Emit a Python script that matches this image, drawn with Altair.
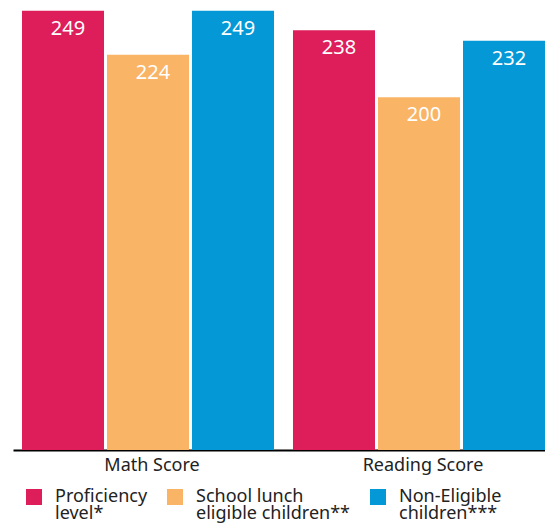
import altair as alt
import pandas as pd

groups = ["Math Score", "Reading Score"]
series = ["Proficiency|level*", "School lunch|eligible children**", "Non-Eligible|children***"]
math_values = [249, 224, 249]
reading_values = [238, 200, 232]
colors = ["#DE1D5B", "#F9B466", "#0498D6"]

rows = []
for s, v in zip(series, math_values):
    rows.append({"group": groups[0], "series": s, "value": v})
for s, v in zip(series, reading_values):
    rows.append({"group": groups[1], "series": s, "value": v})
df = pd.DataFrame(rows)

FONT = "Noto Sans"

base = alt.Chart(df).encode(
    x=alt.X(
        "group:N",
        sort=groups,
        scale=alt.Scale(paddingInner=0.0701, paddingOuter=0.0166, align=1.0),
        axis=alt.Axis(
            title=None, labelAngle=0, ticks=False, domainColor="black", domainWidth=2,
            labelFontSize=18, labelFont=FONT, labelColor="#222222", labelPadding=6,
            labelBaseline="top", labelOffset=4,
        ),
    ),
    xOffset=alt.XOffset("series:N", sort=series, scale=alt.Scale(paddingInner=0.0353, paddingOuter=0)),
    y=alt.Y("value:Q", scale=alt.Scale(domain=[0, 250], nice=False), axis=None),
)

bars = base.mark_bar().encode(
    color=alt.Color(
        "series:N",
        sort=series,
        scale=alt.Scale(domain=series, range=colors),
        legend=alt.Legend(
            title=None, orient="none", legendX=12, legendY=479, direction="horizontal",
            symbolType="square", symbolSize=256, symbolStrokeWidth=0,
            labelFontSize=18, labelFont=FONT, labelColor="#222222",
            labelExpr="split(datum.label, '|')", columnPadding=18, labelOffset=12,
            padding=0, labelLimit=300,
        ),
    )
)

text = base.mark_text(
    color="white", baseline="alphabetic", dy=24, dx=5, fontSize=20, font=FONT
).encode(text="value:Q")

chart = (bars + text).properties(
    width=532, height=441,
    autosize=alt.AutoSizeParams(type="none"),
    padding={"left": 5, "top": 1, "right": 0, "bottom": 77},
).configure(style={"guide-label": {"lineHeight": 17}}).configure_view(strokeWidth=0, stroke="transparent")

chart.save("out.html", embed_options={"renderer": "svg", "actions": False})
